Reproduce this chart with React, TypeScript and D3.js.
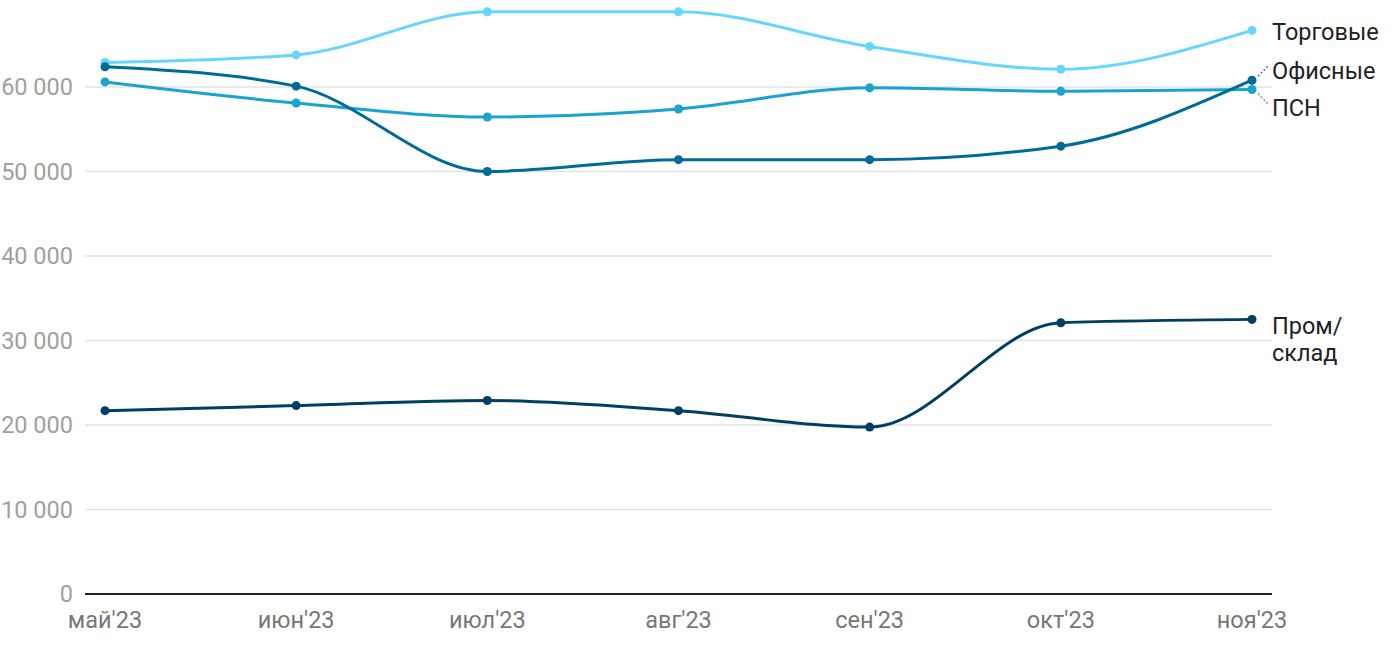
import React from "react";
import * as d3 from "d3";

const months = ["май'23", "июн'23", "июл'23", "авг'23", "сен'23", "окт'23", "ноя'23"];
const torgovye = [62900, 63800, 68900, 68900, 64800, 62100, 66700];
const ofisnye = [62400, 60100, 50000, 51400, 51400, 53000, 60800];
const psn = [60600, 58100, 56450, 57400, 59900, 59500, 59700];
const promsklad = [21700, 22300, 22900, 21700, 19750, 32100, 32500];
const yTicks = [0, 10000, 20000, 30000, 40000, 50000, 60000];

const series = [
  { name: "ПСН", values: psn, color: "#18a3d0" },
  { name: "Торговые", values: torgovye, color: "#66d5ff" },
  { name: "Офисные", values: ofisnye, color: "#006b96" },
  { name: "Пром/склад", values: promsklad, color: "#003f63" },
];

export default function App() {
  const W = 1400, H = 650;
  const x = d3.scalePoint<string>().domain(months).range([105, 1252]);
  const y = d3.scaleLinear().domain([0, 60000]).range([594, 87]);
  const line = d3
    .line<number>()
    .x((_, i) => x(months[i]) as number)
    .y((d) => y(d))
    .curve(d3.curveMonotoneX);
  const fmt = (v: number) => d3.format(",")(v).replace(/,/g, " ");
  const font = "Roboto, 'Noto Sans', sans-serif";
  const lastX = x(months[months.length - 1]) as number;
  const fs = 23.5;

  return (
    <svg width={W} height={H} style={{ position: "absolute", left: 0, top: 0 }} fontFamily={font}>
      <rect width={W} height={H} fill="#fff" />
      {yTicks.map((t) => (
        <g key={t}>
          {t !== 0 && <line x1={85} x2={1272} y1={y(t)} y2={y(t)} stroke="#e2e2e2" strokeWidth={1.5} />}
          <text x={73} y={y(t)} dy="0.35em" textAnchor="end" fontSize={fs} fill="#a0a0a0">
            {fmt(t)}
          </text>
        </g>
      ))}
      <line x1={85} x2={1272} y1={y(0)} y2={y(0)} stroke="#222" strokeWidth={2} />
      {months.map((m) => (
        <text key={m} x={x(m) as number} y={620} dy="0.35em" textAnchor="middle" fontSize={fs} fill="#777">
          {m}
        </text>
      ))}
      {series.map((s) => (
        <g key={s.name}>
          <path d={line(s.values) || ""} fill="none" stroke={s.color} strokeWidth={3} />
          {s.values.map((v, i) => (
            <circle key={i} cx={x(months[i]) as number} cy={y(v)} r={4.5} fill={s.color} />
          ))}
        </g>
      ))}
      {/* labels */}
      <text x={1272} y={32} dy="0.35em" fontSize={fs} fill="#222">Торговые</text>
      <text x={1272} y={71} dy="0.35em" fontSize={fs} fill="#222">Офисные</text>
      <text x={1272} y={108} dy="0.35em" fontSize={fs} fill="#222">ПСН</text>
      <line x1={lastX + 6} y1={y(ofisnye[6]) - 4} x2={lastX + 16} y2={66} stroke="#006b96" strokeWidth={1.2} strokeDasharray="2 2" />
      <line x1={lastX + 6} y1={y(psn[6]) + 4} x2={lastX + 16} y2={104} stroke="#18a3d0" strokeWidth={1.2} strokeDasharray="2 2" />
      <text x={1272} y={326} dy="0.35em" fontSize={fs} fill="#222">Пром/</text>
      <text x={1272} y={353} dy="0.35em" fontSize={fs} fill="#222">склад</text>
    </svg>
  );
}
